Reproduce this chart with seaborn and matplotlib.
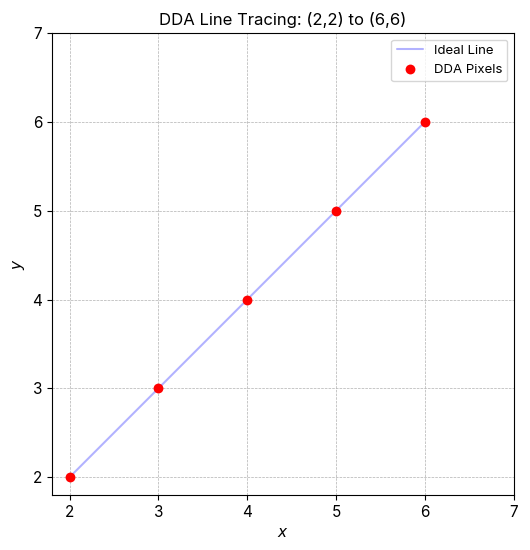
import matplotlib
matplotlib.use('Agg')
from matplotlib import pyplot as plt
import seaborn as sns
import pandas as pd

# DDA line from (2,2) to (6,6)
ideal_x = [2, 6]
ideal_y = [2, 6]
pixel_x = [2, 3, 4, 5, 6]
pixel_y = [2, 3, 4, 5, 6]

sns.set_style('ticks', {'axes.edgecolor': 'black', 'text.color': 'black',
                        'axes.labelcolor': 'black', 'xtick.color': 'black',
                        'ytick.color': 'black'})
plt.rcParams['font.family'] = ['Inter', 'DejaVu Sans']

fig, ax = plt.subplots(figsize=(5.3, 5.5), dpi=100)
ax.plot(ideal_x, ideal_y, color='blue', alpha=0.3, label='Ideal Line')
sns.scatterplot(x=pixel_x, y=pixel_y, color='red', s=50, edgecolor=None, linewidth=0,
                label='DDA Pixels', ax=ax, zorder=3)
ax.set_xlim(1.8, 7)
ax.set_ylim(1.8, 7)
ax.set_xticks(range(2, 8))
ax.set_yticks(range(2, 8))
ax.set_aspect('equal')
ax.grid(True, linestyle='--', linewidth=0.5, color='#b0b0b0')
ax.set_title('DDA Line Tracing: (2,2) to (6,6)', fontsize=12)
ax.set_xlabel('$x$', fontsize=11)
ax.set_ylabel('$y$', fontsize=11)
ax.tick_params(labelsize=11)
ax.legend(loc='upper right', fontsize=9.5)
for s in ax.spines.values():
    s.set_visible(True)
fig.subplots_adjust(left=0.095, right=0.972, top=0.94, bottom=0.1)
plt.savefig('out.png', dpi=100)
